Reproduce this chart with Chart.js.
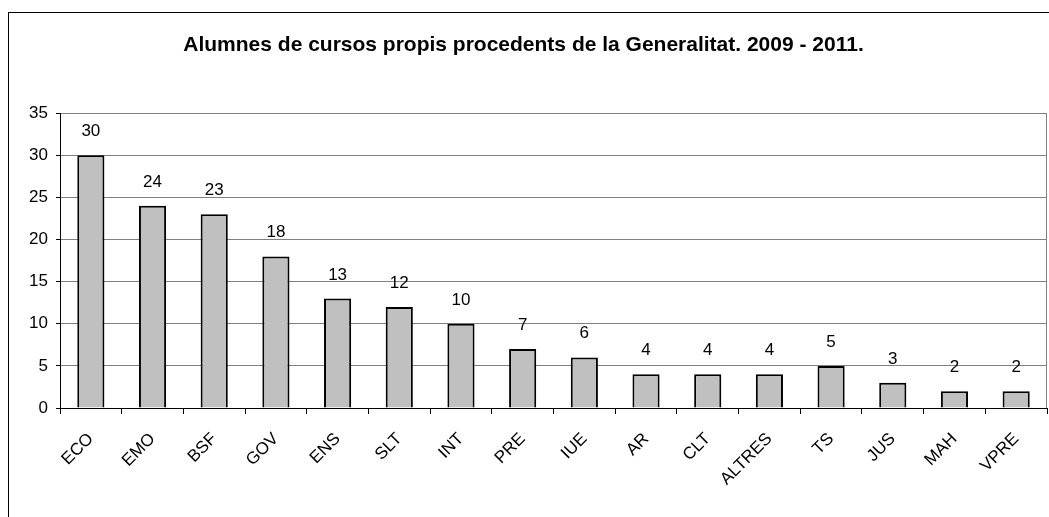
<!DOCTYPE html>
<html>
<head>
<meta charset="utf-8">
<script src="https://cdn.jsdelivr.net/npm/chart.js@4.4.0/dist/chart.umd.min.js"></script>
<style>
  html, body { margin: 0; padding: 0; background: #fff; }
  #wrap { position: relative; width: 1049px; height: 517px; overflow: hidden; }
  #frame { position: absolute; left: 8px; top: 12px; width: 1100px; height: 600px;
           border-left: 1px solid #000; border-top: 1px solid #000; }
  canvas { position: absolute; left: 0; top: 0; }
</style>
</head>
<body>
<div id="wrap">
  <div id="frame"></div>
  <canvas id="myChart" width="1049" height="517"></canvas>
</div>
<script>
const categories = ['ECO', 'EMO', 'BSF', 'GOV', 'ENS', 'SLT', 'INT', 'PRE', 'IUE', 'AR', 'CLT', 'ALTRES', 'TS', 'JUS', 'MAH', 'VPRE'];
const alumnes = [30, 24, 23, 18, 13, 12, 10, 7, 6, 4, 4, 4, 5, 3, 2, 2];
const yTicks = [0, 5, 10, 15, 20, 25, 30, 35];
const titleText = 'Alumnes de cursos propis procedents de la Generalitat. 2009 - 2011.';

const FONT = 'Arial, "Liberation Sans", sans-serif';

// etiquetes de valor damunt de cada barra
const valueLabels = {
  id: 'valueLabels',
  afterDatasetsDraw(chart) {
    const ctx = chart.ctx;
    const meta = chart.getDatasetMeta(0);
    ctx.save();
    ctx.font = '17px ' + FONT;
    ctx.fillStyle = '#000';
    ctx.textAlign = 'center';
    ctx.textBaseline = 'alphabetic';
    meta.data.forEach((bar, i) => {
      ctx.fillText(String(alumnes[i]), bar.x, bar.y - 19);
    });
    ctx.restore();
  }
};

// vora dreta de l'àrea del gràfic
const plotBorder = {
  id: 'plotBorder',
  beforeDatasetsDraw(chart) {
    const a = chart.chartArea;
    const ctx = chart.ctx;
    ctx.save();
    ctx.strokeStyle = '#808080';
    ctx.lineWidth = 1;
    ctx.beginPath();
    ctx.moveTo(a.right - 0.5, a.top);
    ctx.lineTo(a.right - 0.5, a.bottom);
    ctx.stroke();
    ctx.restore();
  }
};

const ctx = document.querySelector('#myChart').getContext('2d');
new Chart(ctx, {
  type: 'bar',
  data: {
    labels: categories,
    datasets: [{
      data: alumnes,
      backgroundColor: '#c0c0c0',
      borderColor: '#000',
      borderWidth: 2,
      barPercentage: 1,
      categoryPercentage: 0.44
    }]
  },
  options: {
    responsive: false,
    animation: false,
    layout: { padding: { left: 0, right: 2, top: 0, bottom: 0 } },
    plugins: {
      legend: { display: false },
      tooltip: { enabled: false },
      title: {
        display: true,
        text: titleText,
        color: '#000',
        font: { family: FONT, size: 21, weight: 'bold' },
        padding: { top: 33, bottom: 55 }
      }
    },
    scales: {
      x: {
        grid: { drawOnChartArea: false, drawTicks: true, tickLength: 6, color: '#000' },
        border: { color: '#000', width: 1 },
        ticks: {
          color: '#000',
          font: { family: FONT, size: 17 },
          minRotation: 45,
          maxRotation: 45,
          padding: 15
        },
        afterFit(scale) { scale.height = 109; }
      },
      y: {
        min: 0,
        max: 35,
        afterBuildTicks(scale) { scale.ticks = yTicks.map(v => ({ value: v })); },
        grid: { color: '#808080', tickColor: '#000', tickLength: 4 },
        border: { color: '#000', width: 1 },
        ticks: {
          color: '#000',
          font: { family: FONT, size: 17 },
          padding: 8
        },
        afterFit(scale) { scale.width = 60; }
      }
    }
  },
  plugins: [valueLabels, plotBorder]
});
</script>
</body>
</html>
